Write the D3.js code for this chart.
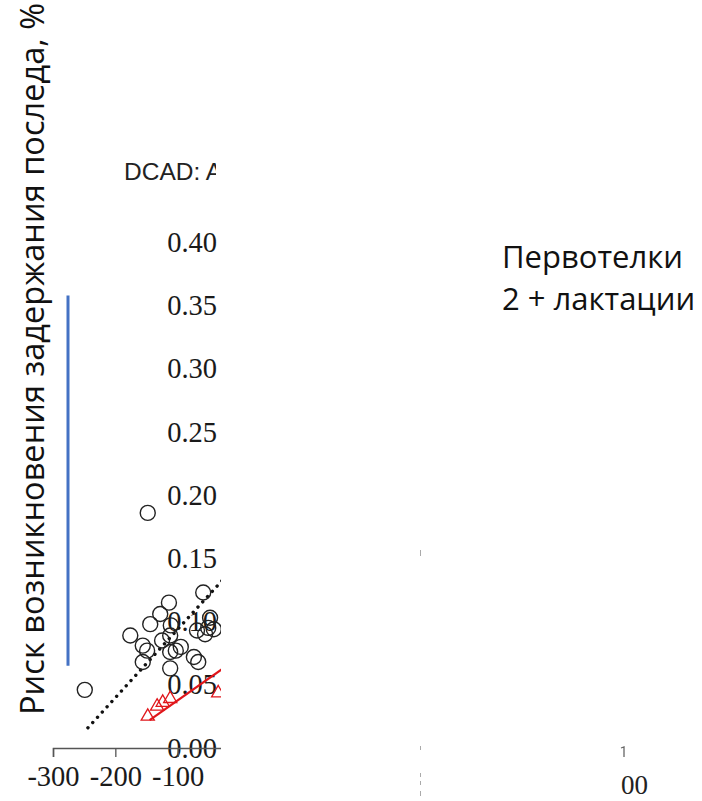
<!DOCTYPE html>
<html>
<head>
<meta charset="utf-8">
<script src="https://cdn.jsdelivr.net/npm/d3@7/dist/d3.min.js"></script>
<style>
  html, body { margin: 0; padding: 0; background: #fff; }
  svg { display: block; }
</style>
</head>
<body>
<svg id="chart" width="702" height="801"></svg>
<script>
// DCAD (mEq/kg) vs. risk of retained placenta
const yTicks = [0, 0.05, 0.10, 0.15, 0.20, 0.25, 0.30, 0.35, 0.40];
const xTicks = [-300, -200, -100];

// herd-level observations (open circles)
const dcadValues = [-148, -59, -114, -128, -144, -176, -156, -149, -156, -112, -112, -95, -112, -103, -74, -67, -69, -48, -42, -249, -111, -56, -51, -125];
const riskValues = [0.186, 0.123, 0.115, 0.106, 0.098, 0.089, 0.081, 0.077, 0.068, 0.089, 0.076, 0.080, 0.063, 0.077, 0.072, 0.068, 0.093, 0.103, 0.094, 0.046, 0.097, 0.090, 0.095, 0.085];

// second group (open triangles)
const triDcad = [-148, -133, -124, -112, -35];
const triRisk = [0.025, 0.033, 0.036, 0.039, 0.0435];

// fitted lines
const fitDottedX = [-244, 0];
const fitDottedY = [0.016, 0.148];
const fitRedX = [-145, 0];
const fitRedY = [0.022, 0.0724];

const yTitle = "Риск возникновения задержания последа, %";
const groupLabels = ["Первотелки", "2 + лактации"];
const panelTitle = "DCAD: All cows";

const svg = d3.select("#chart");
svg.append("rect").attr("width", 702).attr("height", 801).attr("fill", "#fff");

const x = d3.scaleLinear().domain([-300, 300]).range([53, 427]);
const y = d3.scaleLinear().domain([0, 0.40]).range([748, 242.4]);

const defs = svg.append("defs");
defs.append("clipPath").attr("id", "panelClip")
  .append("rect").attr("x", 0).attr("y", 0).attr("width", 221).attr("height", 801);
defs.append("clipPath").attr("id", "titleClip")
  .append("rect").attr("x", 0).attr("y", 0).attr("width", 216).attr("height", 801);

const panel = svg.append("g").attr("clip-path", "url(#panelClip)");

// panel title
svg.append("g").attr("clip-path", "url(#titleClip)")
  .append("text")
  .attr("x", 124).attr("y", 180)
  .attr("font-family", "'Liberation Sans', Arial, sans-serif")
  .attr("font-size", 24.5)
  .attr("fill", "#222")
  .text(panelTitle);

// y axis (labels only remain visible)
const yAxis = panel.append("g")
  .attr("transform", "translate(229,0)")
  .call(d3.axisLeft(y).tickValues(yTicks).tickFormat(d3.format(".2f")).tickSize(6).tickPadding(6));
yAxis.select(".domain").attr("stroke", "#555");
yAxis.selectAll("text")
  .attr("font-family", "'Liberation Serif', 'Times New Roman', serif")
  .attr("font-size", 28.5)
  .attr("fill", "#1a1a1a");

// x axis
const xAxis = panel.append("g")
  .attr("transform", "translate(0,748)")
  .call(d3.axisBottom(x).tickValues(xTicks).tickFormat(d => String(d)).tickSize(9).tickSizeOuter(9).tickPadding(9));
xAxis.select(".domain").attr("stroke", "#555").attr("stroke-width", 1.5);
xAxis.selectAll(".tick line").attr("stroke", "#555").attr("stroke-width", 1.3);
xAxis.selectAll("text")
  .attr("font-family", "'Liberation Serif', 'Times New Roman', serif")
  .attr("font-size", 28.5)
  .attr("fill", "#1a1a1a");

// dotted fit
const line = d3.line().x(d => x(d[0])).y(d => y(d[1]));
panel.append("path")
  .datum(d3.zip(fitDottedX, fitDottedY))
  .attr("d", line)
  .attr("fill", "none")
  .attr("stroke", "#111")
  .attr("stroke-width", 3.4)
  .attr("stroke-linecap", "round")
  .attr("stroke-dasharray", "0.1 7");

// circles
panel.append("g").selectAll("circle")
  .data(d3.zip(dcadValues, riskValues))
  .join("circle")
  .attr("cx", d => x(d[0]))
  .attr("cy", d => y(d[1]))
  .attr("r", 7.5)
  .attr("fill", "none")
  .attr("stroke", "#222")
  .attr("stroke-width", 1.4);

// red fit
panel.append("path")
  .datum(d3.zip(fitRedX, fitRedY))
  .attr("d", line)
  .attr("fill", "none")
  .attr("stroke", "#e0161b")
  .attr("stroke-width", 2.2);

// triangles
const tri = d3.symbol().type(d3.symbolTriangle).size(75);
panel.append("g").selectAll("path")
  .data(d3.zip(triDcad, triRisk))
  .join("path")
  .attr("d", tri)
  .attr("transform", d => `translate(${x(d[0])},${y(d[1])})`)
  .attr("fill", "none")
  .attr("stroke", "#e0161b")
  .attr("stroke-width", 1.3);

// blue bracket
svg.append("line")
  .attr("x1", 68).attr("x2", 68)
  .attr("y1", y(0.358)).attr("y2", y(0.065))
  .attr("stroke", "#4472c4")
  .attr("stroke-width", 3);

// y axis title
svg.append("text")
  .attr("transform", "translate(44,715) rotate(-90)")
  .attr("font-family", "'Open Sans', 'Noto Sans', sans-serif")
  .attr("font-size", 32.6)
  .attr("fill", "#111")
  .text(yTitle);

// group labels
svg.selectAll("text.grp")
  .data(groupLabels)
  .join("text")
  .attr("class", "grp")
  .attr("x", 502)
  .attr("y", (d, i) => 268 + i * 42)
  .attr("font-family", "'Open Sans', 'Noto Sans', sans-serif")
  .attr("font-size", 31)
  .attr("fill", "#111")
  .text(d => d);

// fragments of the neighbouring panel
const frag = svg.append("g");
[[550, 556], [746, 750], [773, 777], [781, 785], [791, 796]].forEach(s => {
  frag.append("line").attr("x1", 420.5).attr("x2", 420.5).attr("y1", s[0]).attr("y2", s[1])
    .attr("stroke", "#aaa").attr("stroke-width", 1);
});
frag.append("path").attr("d", "M621,748 L624,747 L624,757")
  .attr("fill", "none").attr("stroke", "#666").attr("stroke-width", 1.3);
frag.append("text")
  .attr("x", 621).attr("y", 794)
  .attr("font-family", "'Liberation Serif', 'Times New Roman', serif")
  .attr("font-size", 27)
  .attr("fill", "#222")
  .text("00");
</script>
</body>
</html>
